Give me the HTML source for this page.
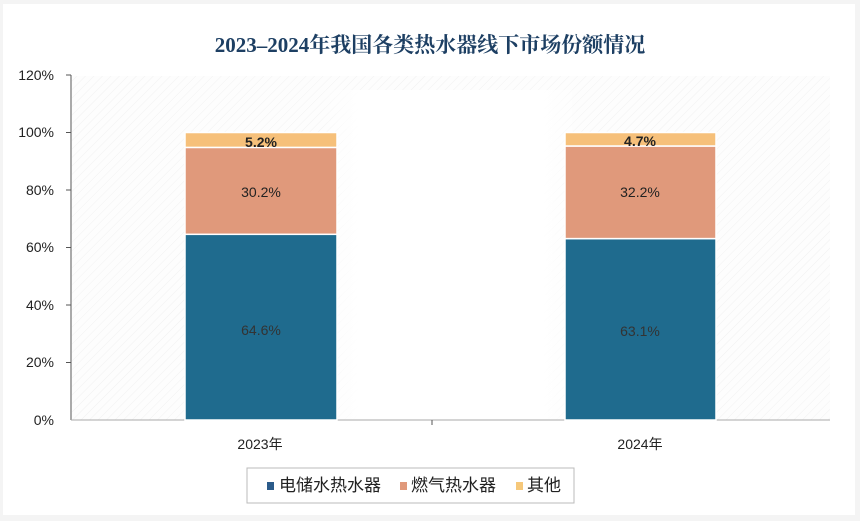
<!DOCTYPE html>
<html><head><meta charset="utf-8"><style>
body{margin:0;background:#fff;}
svg{display:block;font-family:"Liberation Sans","Noto Sans CJK SC",sans-serif;}
</style></head><body>
<svg width="860" height="521" viewBox="0 0 860 521">
<defs>
<pattern id="h" width="6" height="6" patternUnits="userSpaceOnUse" patternTransform="rotate(45)">
<rect width="6" height="6" fill="#fcfcfc"/><line x1="0" y1="0" x2="0" y2="6" stroke="#e8e8e8" stroke-width="1"/></pattern>
<linearGradient id="w" x1="0" x2="1" y1="0" y2="0">
<stop offset="0" stop-color="#fff" stop-opacity="0"/><stop offset="0.15" stop-color="#fff" stop-opacity="1"/><stop offset="0.85" stop-color="#fff" stop-opacity="1"/><stop offset="1" stop-color="#fff" stop-opacity="0"/></linearGradient>
</defs>
<rect x="0" y="0" width="860" height="521" fill="#f4f4f4"/>
<rect x="3" y="4" width="852" height="511" fill="#fff"/>
<rect x="72" y="76" width="758" height="344" fill="url(#h)" opacity="0.6"/>
<rect x="320" y="90" width="262" height="330" fill="url(#w)"/>
<text x="430" y="52" text-anchor="middle" font-family="Liberation Serif,Noto Serif CJK SC,serif" font-weight="bold" font-size="21" fill="#1d3f63">2023–2024年我国各类热水器线下市场份额情况</text>
<line x1="71" y1="75" x2="71" y2="420" stroke="#555"/>
<g stroke="#555">
<line x1="66" y1="75" x2="71" y2="75"/><line x1="66" y1="132.5" x2="71" y2="132.5"/><line x1="66" y1="190" x2="71" y2="190"/><line x1="66" y1="247.5" x2="71" y2="247.5"/><line x1="66" y1="305" x2="71" y2="305"/><line x1="66" y1="362.5" x2="71" y2="362.5"/>
</g>
<line x1="71" y1="420" x2="830" y2="420" stroke="#aaa"/>
<line x1="432" y1="420" x2="432" y2="425" stroke="#555"/>
<g font-size="14" fill="#222" text-anchor="end">
<text x="54" y="80">120%</text><text x="54" y="137">100%</text><text x="54" y="195">80%</text><text x="54" y="252">60%</text><text x="54" y="310">40%</text><text x="54" y="367">20%</text><text x="54" y="425">0%</text>
</g>
<g stroke="#fff" stroke-width="1.5">
<rect x="185" y="234.3" width="152" height="185.7" fill="#1f6b8e"/>
<rect x="185" y="147.4" width="152" height="86.9" fill="#e0997b"/>
<rect x="185" y="132.5" width="152" height="14.9" fill="#f6c07a"/>
<rect x="565" y="238.6" width="151" height="181.4" fill="#1f6b8e"/>
<rect x="565" y="146" width="151" height="92.6" fill="#e0997b"/>
<rect x="565" y="132.5" width="151" height="13.5" fill="#f6c07a"/>
</g>
<g font-size="14" text-anchor="middle" fill="#222">
<text x="261" y="147" font-weight="bold">5.2%</text>
<text x="261" y="197">30.2%</text>
<text x="261" y="335" fill="#333">64.6%</text>
<text x="640" y="146" font-weight="bold">4.7%</text>
<text x="640" y="197">32.2%</text>
<text x="640" y="336" fill="#333">63.1%</text>
<text x="260" y="449">2023年</text>
<text x="640" y="449">2024年</text>
</g>
<rect x="247" y="468" width="327" height="35" fill="#fff" stroke="#bbb"/>
<g font-size="17" fill="#222">
<rect x="267" y="482" width="7" height="8" fill="#2b5b8a"/><text x="279" y="491">电储水热水器</text>
<rect x="400" y="482" width="7" height="8" fill="#e0997b"/><text x="411" y="491">燃气热水器</text>
<rect x="516" y="482" width="7" height="8" fill="#f6c87a"/><text x="527" y="491">其他</text>
</g>
</svg>
</body></html>
